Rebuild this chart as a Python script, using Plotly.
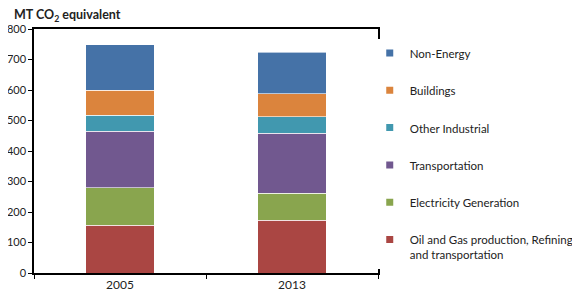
import plotly.graph_objects as go

years = ["2005", "2013"]
sectors = [
    "Oil and Gas production, Refining<br>and transportation",
    "Electricity Generation",
    "Transportation",
    "Other Industrial",
    "Buildings",
    "Non-Energy",
]
oil_gas = [156, 173]
electricity = [124, 88]
transportation = [185, 198]
other_industrial = [53, 54]
buildings = [81, 75]
non_energy = [149, 136]

values = [oil_gas, electricity, transportation, other_industrial, buildings, non_energy]
colors = ["#AA4643", "#89A54E", "#71588F", "#4198AF", "#DB843D", "#4572A7"]

fig = go.Figure()
for i, (name, vals) in enumerate(zip(sectors, values)):
    fig.add_bar(
        x=years,
        y=vals,
        name=name,
        showlegend=False,
        marker=dict(color=colors[i], line=dict(color="rgba(255,255,255,0.6)", width=1)),
    )
# small square legend markers, Non-Energy on top
for i, name in enumerate(sectors):
    fig.add_scatter(
        x=[None],
        y=[None],
        mode="markers",
        name=name,
        legendgroup=str(i),
        legendrank=len(sectors) - i,
        marker=dict(symbol="square", size=7, color=colors[i]),
    )

# page body has an 8px margin, so the figure is drawn 8px smaller
fig.update_layout(
    barmode="stack",
    bargap=0.6,
    width=572,
    height=293,
    margin=dict(l=26, r=202, t=21, b=28, autoexpand=False),
    plot_bgcolor="white",
    paper_bgcolor="white",
    font=dict(family="Lato", size=11, color="#222"),
    legend=dict(
        x=0.976,
        y=0.959,
        xanchor="left",
        yanchor="top",
        traceorder="grouped",
        tracegroupgap=18.3,
        valign="top",
        font=dict(size=11.5, color="#222"),
        itemwidth=30,
    ),
    annotations=[
        dict(
            text="<b>MT CO<sub>2</sub> equivalent</b>",
            x=0, y=1, xref="paper", yref="paper",
            xshift=-22, yshift=3,
            xanchor="left", yanchor="bottom",
            showarrow=False,
            font=dict(size=12.5, color="#222"),
        )
    ],
)
fig.update_yaxes(
    range=[0, 800],
    dtick=100,
    showgrid=False,
    showline=True,
    linecolor="black",
    linewidth=1.5,
    mirror=True,
    ticks="outside",
    ticklen=4,
    tickcolor="black",
    zeroline=False,
)
fig.update_xaxes(
    showgrid=False,
    showline=True,
    linecolor="black",
    linewidth=1.5,
    mirror=True,
    ticks="outside",
    tickson="boundaries",
    ticklen=4,
    tickcolor="black",
    tickfont=dict(size=12),
)

fig.write_html("out.html")
